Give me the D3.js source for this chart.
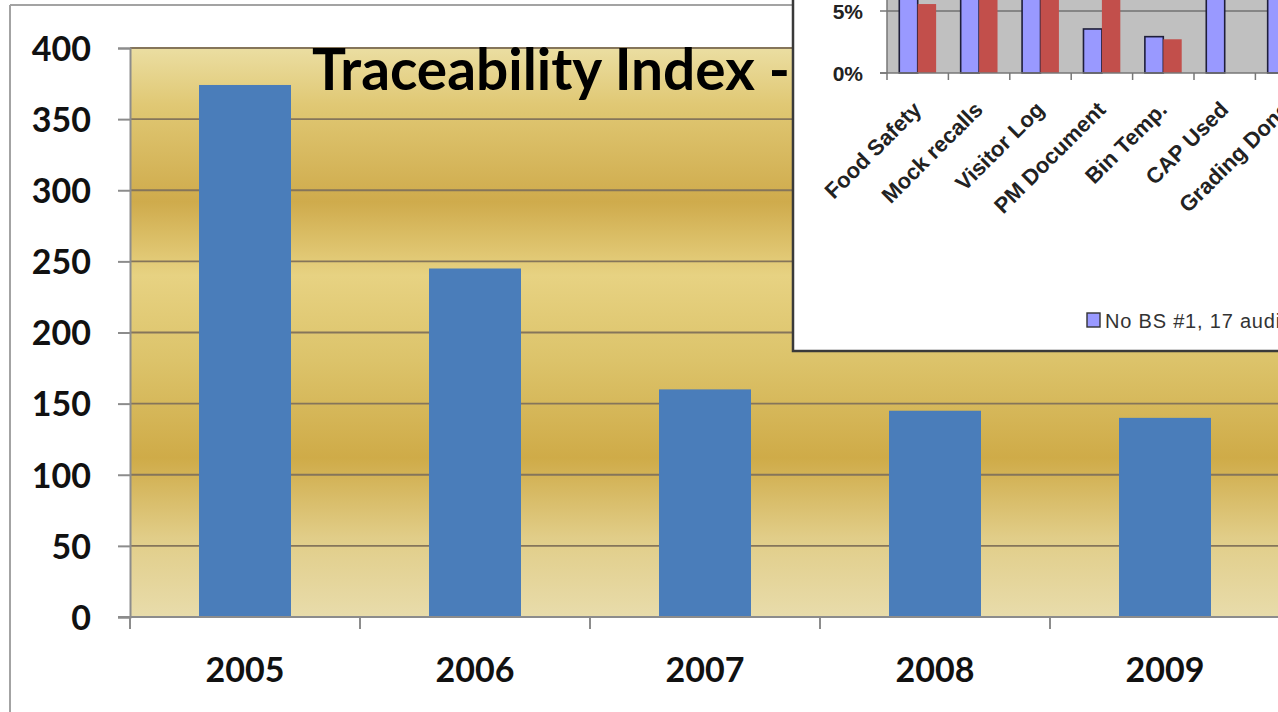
<!DOCTYPE html>
<html>
<head>
<meta charset="utf-8">
<script src="https://cdn.jsdelivr.net/npm/d3@7"></script>
<style>
  html, body { margin: 0; padding: 0; background: #ffffff; }
  svg { display: block; }
</style>
</head>
<body>
<svg id="chart" width="1278" height="712"></svg>
<script>
// ---------- data ----------
const years = ["2005", "2006", "2007", "2008", "2009"];
const traceValues = [374, 245, 160, 145, 140];
const yTickValues = [0, 50, 100, 150, 200, 250, 300, 350, 400];
const titleText = "Traceability Index -";

const insetCategories = ["Food Safety", "Mock recalls", "Visitor Log", "PM Document", "Bin Temp.", "CAP Used", "Grading Done"];
const insetSeriesA = [9.0, 12.0, 10.0, 3.55, 2.93, 11.0, 9.0];   // % (blue)
const insetSeriesB = [5.56, 9.0, 11.0, 8.0, 2.72, 0, 0];         // % (red)
const insetSeriesNames = ["No BS #1, 17 audits"];
const insetYTicks = [0, 5];

// ---------- setup ----------
const svg = d3.select("#chart");
const W = 1278, H = 712;
svg.append("rect").attr("width", W).attr("height", H).attr("fill", "#ffffff");

const defs = svg.append("defs");
const gold = defs.append("linearGradient").attr("id", "gold")
  .attr("x1", 0).attr("y1", 0).attr("x2", 0).attr("y2", 1);
[[0, "#ebdea2"], [0.1, "#e0c874"], [0.27, "#cfab4c"], [0.4, "#e7d282"],
 [0.55, "#dcc36a"], [0.72, "#cfab48"], [0.86, "#e1cd88"], [1, "#e8dcab"]]
  .forEach(([o, c]) => gold.append("stop").attr("offset", o).attr("stop-color", c));

// outer frame
svg.append("line").attr("x1", 10).attr("x2", 10).attr("y1", 5).attr("y2", H)
  .attr("stroke", "#a3a3a3").attr("stroke-width", 2);
svg.append("line").attr("x1", 10).attr("x2", W).attr("y1", 5).attr("y2", 5)
  .attr("stroke", "#a3a3a3").attr("stroke-width", 2);

// ---------- main chart ----------
const plotL = 130, plotR = 1280, plotT = 48, plotB = 617;
const x = d3.scaleBand().domain(years).range([plotL, plotR]).paddingInner(0.6).paddingOuter(0.3);
const y = d3.scaleLinear().domain([0, 400]).range([plotB, plotT]);

svg.append("rect").attr("x", plotL).attr("y", y(400)).attr("width", plotR - plotL)
  .attr("height", y(0) - y(400)).attr("fill", "url(#gold)");

// gridlines
svg.append("g").selectAll("line").data(yTickValues.filter(d => d > 0)).join("line")
  .attr("x1", plotL).attr("x2", plotR)
  .attr("y1", d => y(d)).attr("y2", d => y(d))
  .attr("stroke", "#85755a").attr("stroke-width", 1.8);

// bars
svg.append("g").selectAll("rect").data(years).join("rect")
  .attr("x", d => x(d)).attr("width", x.bandwidth())
  .attr("y", (d, i) => y(traceValues[i]))
  .attr("height", (d, i) => y(0) - y(traceValues[i]))
  .attr("fill", "#4a7dba");

// y axis
const yAxis = d3.axisLeft(y).tickValues(yTickValues).tickSize(12).tickPadding(27);
const gy = svg.append("g").attr("transform", `translate(${plotL},0)`).call(yAxis);
gy.select(".domain").attr("stroke", "#8c8c8c").attr("stroke-width", 2);
gy.selectAll(".tick line").attr("stroke", "#8c8c8c").attr("stroke-width", 2);
gy.selectAll(".tick text").attr("font-family", "Lato, 'Open Sans', sans-serif")
  .attr("font-weight", "bold").attr("font-size", 34).attr("fill", "#111")
  .attr("dy", "0.36em");

// x axis
const step = x.step();
const boundaries = years.map(d => x(d) - step * 0.3).concat([x(years[years.length - 1]) - step * 0.3 + step]);
svg.append("line").attr("x1", plotL - 12).attr("x2", plotR).attr("y1", plotB).attr("y2", plotB)
  .attr("stroke", "#8c8c8c").attr("stroke-width", 2);
svg.append("g").selectAll("line").data(boundaries).join("line")
  .attr("x1", d => d).attr("x2", d => d).attr("y1", plotB).attr("y2", plotB + 12)
  .attr("stroke", "#8c8c8c").attr("stroke-width", 2);
svg.append("g").selectAll("text").data(years).join("text")
  .attr("x", d => x(d) + x.bandwidth() / 2).attr("y", 682)
  .attr("text-anchor", "middle")
  .attr("font-family", "Lato, 'Open Sans', sans-serif").attr("font-weight", "bold")
  .attr("font-size", 34).attr("fill", "#111").text(d => d);

// title (fit to width)
const title = svg.append("text").attr("x", 312).attr("y", 90)
  .attr("font-family", "Lato, 'Open Sans', sans-serif").attr("font-weight", "bold")
  .attr("font-size", 58).attr("fill", "#000").text(titleText);
const tw = title.node().getComputedTextLength();
title.attr("font-size", 58 * 478 / tw);

// ---------- inset chart ----------
const inset = svg.append("g");
inset.append("rect").attr("x", 793).attr("y", -60).attr("width", 600).attr("height", 411)
  .attr("fill", "#ffffff").attr("stroke", "#3a3a3a").attr("stroke-width", 2.5);

const iL = 887, iB = 73;
const ix = d3.scaleBand().domain(insetCategories).range([iL, iL + insetCategories.length * 61.4])
  .paddingInner(0.4).paddingOuter(0.2);
const ix1 = d3.scaleBand().domain(["a", "b"]).range([0, ix.bandwidth()]);
const iy = d3.scaleLinear().domain([0, 5]).range([iB, 11]);

inset.append("rect").attr("x", iL).attr("y", -60).attr("width", 500).attr("height", iB + 60)
  .attr("fill", "#c0c0c0");
inset.append("g").selectAll("line").data(insetYTicks.filter(d => d > 0)).join("line")
  .attr("x1", iL).attr("x2", iL + 500).attr("y1", d => iy(d)).attr("y2", d => iy(d))
  .attr("stroke", "#4a4a4a").attr("stroke-width", 1.2);

inset.append("g").selectAll("rect").data(insetCategories).join("rect")
  .attr("x", d => ix(d) + ix1("a")).attr("width", ix1.bandwidth())
  .attr("y", (d, i) => iy(insetSeriesA[i])).attr("height", (d, i) => iy(0) - iy(insetSeriesA[i]))
  .attr("fill", "#9999ff").attr("stroke", "#1e1e3a").attr("stroke-width", 1.6);
inset.append("g").selectAll("rect").data(insetCategories).join("rect")
  .attr("x", d => ix(d) + ix1("b")).attr("width", ix1.bandwidth())
  .attr("y", (d, i) => iy(insetSeriesB[i])).attr("height", (d, i) => iy(0) - iy(insetSeriesB[i]))
  .attr("fill", "#c24f4b");

// inset axes
inset.append("line").attr("x1", iL).attr("x2", iL).attr("y1", -60).attr("y2", iB)
  .attr("stroke", "#777").attr("stroke-width", 1.5);
inset.append("line").attr("x1", iL - 7).attr("x2", iL + 500).attr("y1", iB).attr("y2", iB)
  .attr("stroke", "#777").attr("stroke-width", 1.5);
inset.append("g").selectAll("line").data(insetYTicks).join("line")
  .attr("x1", iL - 7).attr("x2", iL).attr("y1", d => iy(d)).attr("y2", d => iy(d))
  .attr("stroke", "#777").attr("stroke-width", 1.5);
const istep = ix.step();
inset.append("g").selectAll("line").data(d3.range(insetCategories.length + 1)).join("line")
  .attr("x1", i => iL + i * istep).attr("x2", i => iL + i * istep)
  .attr("y1", iB).attr("y2", iB + 7).attr("stroke", "#777").attr("stroke-width", 1.5);
inset.append("g").selectAll("text").data(insetYTicks).join("text")
  .attr("x", 863).attr("y", d => iy(d)).attr("dy", "0.36em").attr("text-anchor", "end")
  .attr("font-family", "Arial, 'Liberation Sans', sans-serif").attr("font-weight", "bold")
  .attr("font-size", 21).attr("fill", "#222").text(d => d + "%");
inset.append("g").selectAll("text").data(insetCategories).join("text")
  .attr("transform", d => `translate(${ix(d) + ix.bandwidth() / 2 + 5},111) rotate(-45)`)
  .attr("text-anchor", "end")
  .attr("font-family", "Arial, 'Liberation Sans', sans-serif").attr("font-weight", "bold")
  .attr("font-size", 22).attr("fill", "#222").text(d => d);

// inset legend
const lg = inset.append("g").attr("transform", "translate(1087,313)");
lg.selectAll("rect").data(insetSeriesNames).join("rect")
  .attr("x", 0).attr("y", 0).attr("width", 13).attr("height", 14)
  .attr("fill", "#9999ff").attr("stroke", "#333").attr("stroke-width", 1.4);
lg.selectAll("text").data(insetSeriesNames).join("text")
  .attr("x", 18).attr("y", 14.5)
  .attr("font-family", "Arial, 'Liberation Sans', sans-serif")
  .attr("font-size", 20).attr("letter-spacing", 0.8).attr("fill", "#333").text(d => d);
</script>
</body>
</html>
